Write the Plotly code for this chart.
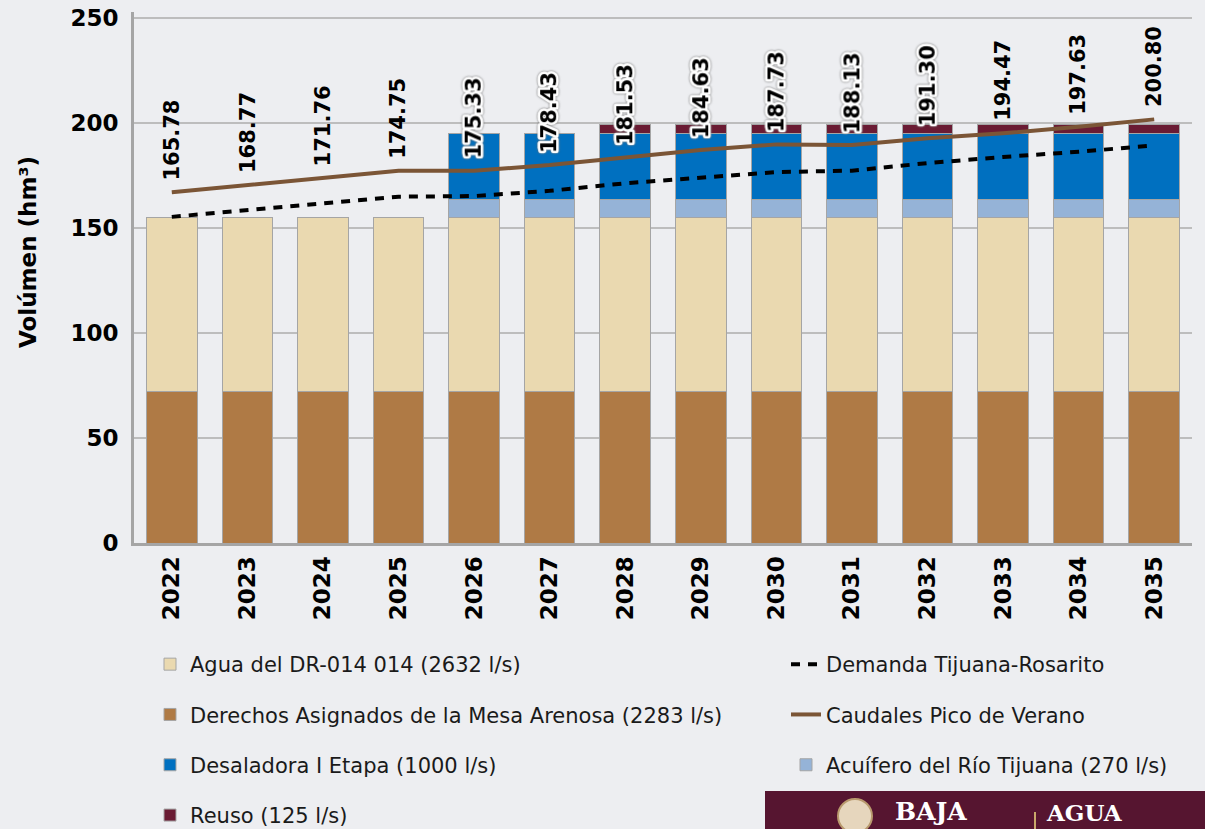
import json
import plotly.graph_objects as go

# ---------------- data ----------------
years = ["2022", "2023", "2024", "2025", "2026", "2027", "2028",
         "2029", "2030", "2031", "2032", "2033", "2034", "2035"]
derechos = [72.0] * 14
agua = [82.8] * 14
acuifero = [None] * 4 + [8.5] * 10
desaladora = [None] * 4 + [31.7] * 10
reuso = [None] * 6 + [4.2] * 8
demanda = [155.2, 158.4, 161.9, 164.8, 165.1, 167.6, 171.2,
           173.8, 176.5, 177.2, 180.8, 183.7, 186.2, 189.2]
caudales = [166.9, 170.3, 173.7, 177.1, 177.1, 179.9, 183.5,
            187.0, 189.7, 189.4, 192.6, 195.0, 198.1, 201.6]
labels = ["165.78", "168.77", "171.76", "174.75", "175.33", "178.43", "181.53",
          "184.63", "187.73", "188.13", "191.30", "194.47", "197.63", "200.80"]

names = {
    "agua": "Agua del DR-014 014 (2632 l/s)",
    "derechos": "Derechos Asignados de la Mesa Arenosa (2283 l/s)",
    "desal": "Desaladora I Etapa (1000 l/s)",
    "reuso": "Reuso (125 l/s)",
    "demanda": "Demanda Tijuana-Rosarito",
    "caudales": "Caudales Pico de Verano",
    "acuifero": "Acuífero del Río Tijuana (270 l/s)",
}

# ---------------- style ----------------
W, H = 1205, 829
L, R, T, B = 134, 13, 12, 286
BG = "#EDEEF1"
FONT = "DejaVu Sans"
halo_years = ["2026", "2027", "2028", "2029", "2030", "2031", "2032"]
PW = W - L - R
PH = H - T - B


def px_x(px):
    return (px - L) / PW


def px_y(py):
    return (H - B - py) / PH


outline = dict(color="#A5A5A5", width=1)
fig = go.Figure()

bar_specs = [
    ("derechos", derechos, "#AF7A45", "legend", 2),
    ("agua", agua, "#EAD9B0", "legend", 1),
    ("acuifero", acuifero, "#95B3D7", "legend2", 3),
    ("desal", desaladora, "#0070C0", "legend", 3),
    ("reuso", reuso, "#6A1B33", "legend", 4),
]
for key, vals, color, leg, rank in bar_specs:
    fig.add_trace(go.Bar(
        x=years, y=vals, name=names[key], marker=dict(color=color, line=outline),
        width=0.67, legend=leg, legendrank=rank, legendgroup=key,
        hoverinfo="skip"))

fig.add_trace(go.Scatter(
    x=years, y=caudales, name=names["caudales"], mode="lines",
    line=dict(color="#7B5536", width=4), legend="legend2", legendrank=2,
    legendgroup="caudales"))
fig.add_trace(go.Scatter(
    x=years, y=demanda, name=names["demanda"], mode="lines",
    line=dict(color="#000000", width=4, dash="9px,8px"), legend="legend2",
    legendrank=1, legendgroup="demanda"))

halo_labels = []
for i, (yr, val, lab) in enumerate(zip(years, caudales, labels)):
    if yr in halo_years:
        halo_labels.append(lab)
    fig.add_annotation(x=i, y=val, text=lab, textangle=-90, showarrow=False,
                       xanchor="center", yanchor="bottom", yshift=10,
                       font=dict(family=FONT, size=21, color="#000000", weight="bold"))

# y-axis title
fig.add_annotation(xref="paper", yref="paper", x=px_x(28), y=px_y(252),
                   xanchor="center", yanchor="middle",
                   text="Volúmen (hm³)", textangle=-90, showarrow=False,
                   font=dict(family=FONT, size=23, color="#000", weight="bold"))

# banner at bottom right
fig.add_shape(type="rect", xref="paper", yref="paper",
              x0=px_x(765), x1=px_x(1210), y0=px_y(791), y1=px_y(835),
              fillcolor="#561530", line=dict(width=0), layer="above")
fig.add_shape(type="circle", xref="paper", yref="paper",
              x0=px_x(838), x1=px_x(872), y0=px_y(799), y1=px_y(833),
              fillcolor="#E6D6BD", line=dict(color="#B99A6E", width=2), layer="above")
fig.add_shape(type="line", xref="paper", yref="paper",
              x0=px_x(1035), x1=px_x(1035), y0=px_y(812), y1=px_y(835),
              line=dict(color="#C9A86A", width=2), layer="above")
fig.add_annotation(xref="paper", yref="paper", x=px_x(893), y=px_y(828),
                   xanchor="left", yanchor="bottom", text="BAJA", showarrow=False,
                   font=dict(family="DejaVu Serif", size=25, color="#FFFFFF", weight="bold"))
fig.add_annotation(xref="paper", yref="paper", x=px_x(1044), y=px_y(828),
                   xanchor="left", yanchor="bottom", text="AGUA", showarrow=False,
                   font=dict(family="DejaVu Serif", size=23, color="#FFFFFF", weight="bold"))

legend_font = dict(family=FONT, size=21, color="#1A1A1A")
fig.update_layout(
    width=W, height=H,
    margin=dict(l=L, r=R, t=T, b=B, autoexpand=False),
    paper_bgcolor=BG, plot_bgcolor=BG,
    barmode="stack", bargap=0.33,
    showlegend=True,
    legend=dict(xref="container", yref="container", x=150 / W, y=1 - 644 / H,
                xanchor="left", yanchor="top", orientation="v",
                tracegroupgap=20, font=legend_font, bgcolor="rgba(0,0,0,0)"),
    legend2=dict(xref="container", yref="container", x=786 / W, y=1 - 644 / H,
                 xanchor="left", yanchor="top", orientation="v",
                 tracegroupgap=20, font=legend_font, bgcolor="rgba(0,0,0,0)"),
    xaxis=dict(type="category", range=[-0.5, 13.5], tickangle=-90,
               showline=True, linecolor="#A5A5A5", linewidth=3,
               ticks="outside", ticklen=1, tickcolor="rgba(0,0,0,0)",
               tickfont=dict(family=FONT, size=23, color="#000", weight="bold"),
               showgrid=False, fixedrange=True),
    yaxis=dict(range=[0, 252.7], tickvals=[0, 50, 100, 150, 200, 250],
               showline=True, linecolor="#A5A5A5", linewidth=3,
               ticks="outside", ticklen=8, tickcolor="rgba(0,0,0,0)",
               tickfont=dict(family=FONT, size=23, color="#000", weight="bold"),
               showgrid=True, gridcolor="#BDBDBD", gridwidth=1.5,
               zeroline=False, fixedrange=True),
)

post = """
document.body.style.margin='0';
document.body.style.background='%s';
var haloSet = %s;
var gd = document.getElementById('{plot_id}');
gd.querySelectorAll('.annotation-text').forEach(function(t){
  if (haloSet.indexOf(t.textContent) >= 0) {
    t.style.stroke = '#ffffff';
    t.style.strokeWidth = '5px';
    t.style.strokeLinejoin = 'round';
    t.style.paintOrder = 'stroke';
    t.style.filter = 'drop-shadow(0 0 0.8px #666)';
  }
});
""" % (BG, json.dumps(halo_labels))

fig.write_html("out.html", config={"displayModeBar": False}, post_script=post)
